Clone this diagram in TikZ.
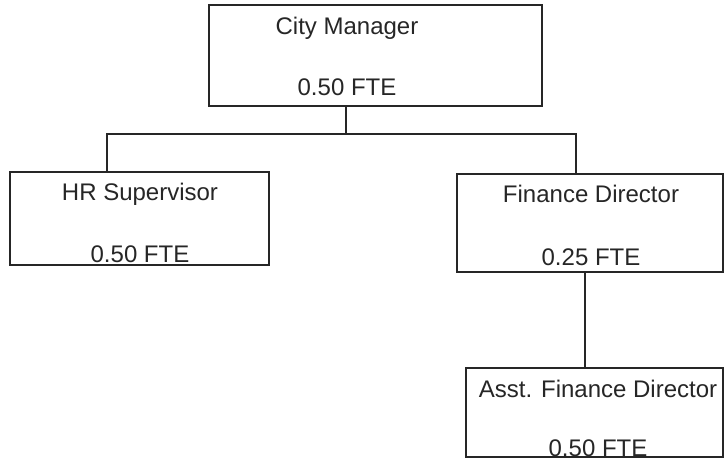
\documentclass[tikz,border=0pt]{standalone}
\usepackage{fontspec}
\setmainfont{Liberation Sans}
\usepackage{tikz}

\begin{document}
\begin{tikzpicture}[x=1pt,y=-1pt]
			\tikzstyle{post} = [draw=black!85,line width=1.1pt,rectangle,inner sep=0pt]
			\tikzstyle{title} = [anchor=base,inner sep=0pt,text=black!85,font=\fontsize{24}{28}\selectfont]
			\tikzstyle{wire} = [draw=black!85,line width=1.1pt]

			\useasboundingbox (0,0) rectangle (725,460);
			\clip (0,0) rectangle (725,460);

			\node[post,minimum width=333pt,minimum height=101pt] (cm) at (375.5,55.5) {};
			\node[post,minimum width=259pt,minimum height=93pt] (hr) at (139.5,218.5) {};
			\node[post,minimum width=266pt,minimum height=98pt] (fd) at (590,223) {};
			\node[post,minimum width=257pt,minimum height=89pt] (afd) at (594.5,412.5) {};

			\node[title] (cm-name) at (347,35) {City Manager};
			\node[title] (cm-fte) at (347,95) {0.50 FTE};
			\node[title] (hr-name) at (140,200) {HR Supervisor};
			\node[title] (hr-fte) at (140,262) {0.50 FTE};
			\node[title] (fd-name) at (591,202) {Finance Director};
			\node[title] (fd-fte) at (591,265) {0.25 FTE};
			\node[title] (afd-name) at (598,397) {Asst. Finance Director};
			\node[title] (afd-fte) at (598,456) {0.50 FTE};

			\coordinate (bus-l) at (107,134);
			\coordinate (bus-m) at (346,134);
			\coordinate (bus-r) at (576,134);
			\coordinate (fd-tap) at (585,0);

			\path[wire] (bus-m |- cm.south) -- (bus-m);
			\path[wire] (bus-l |- hr.north) -- (bus-l) -- (bus-r) -- (bus-r |- fd.north);
			\path[wire] (fd-tap |- fd.south) -- (fd-tap |- afd.north);
		\end{tikzpicture}
\end{document}
